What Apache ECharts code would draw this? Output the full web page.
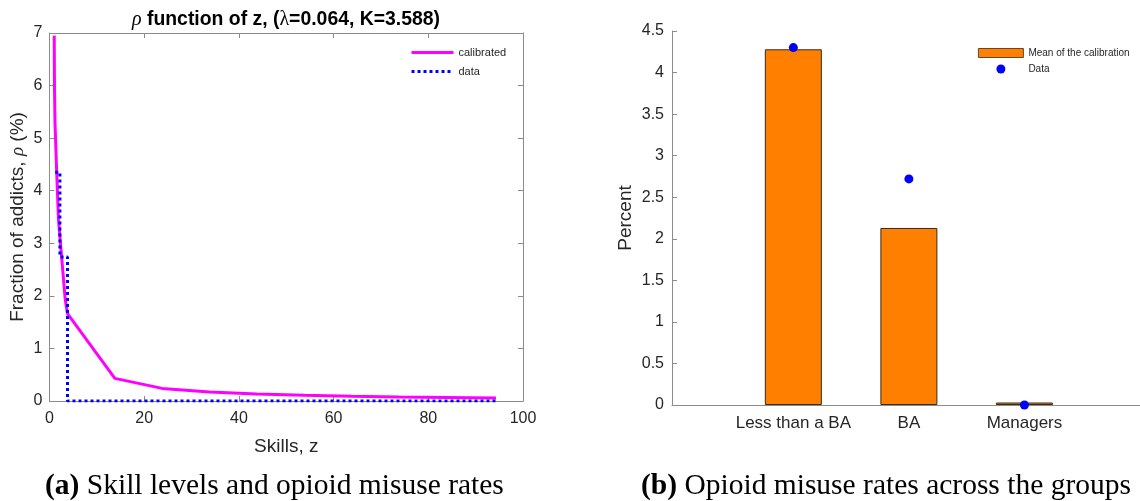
<!DOCTYPE html>
<html>
<head>
<meta charset="utf-8">
<script src="https://cdn.jsdelivr.net/npm/echarts@6/dist/echarts.min.js"></script>
<style>
  html, body { margin: 0; padding: 0; background: #fff; }
  #chart { width: 1140px; height: 501px; }
</style>
</head>
<body>
<div id="chart"></div>
<script>
// Panel (a): calibrated share of addicts by skill level, and the observed step profile
const skillZ        = [1.0, 1.05, 1.16, 1.5, 1.9, 2.6, 3.3, 3.8, 13.8, 23.8, 33.8, 43.8, 53.8, 63.8, 73.8, 83.8, 94.3];
const calibratedRho = [6.95, 6.0, 5.3, 4.4, 3.45, 2.7, 1.95, 1.66, 0.43, 0.24, 0.17, 0.135, 0.11, 0.09, 0.075, 0.065, 0.055];
const stepZ   = [1.2, 2.2, 3.8, 94.3];
const stepRho = [4.35, 2.74, 0, 0];
const zTicks   = [0, 20, 40, 60, 80, 100];
const rhoTicks = [0, 1, 2, 3, 4, 5, 6, 7];

// Panel (b): misuse rates by group
const groups       = ['Less than a BA', 'BA', 'Managers'];
const calibMean    = [4.28, 2.13, 0.03];
const observedRate = [4.30, 2.72, 0.0];
const pctTicks     = [0, 0.5, 1, 1.5, 2, 2.5, 3, 3.5, 4, 4.5];

const SANS = '"Liberation Sans", Arial, Helvetica, sans-serif';
const SERIF = '"Liberation Serif", "DejaVu Serif", serif';
const TXT = '#262626';
const AX = '#8c8c8c';

const zip = (xs, ys) => xs.map((x, i) => [x, ys[i]]);

const tickLabel = { color: TXT, fontFamily: SANS, fontSize: 16 };
const innerTicks = { show: true, inside: true, length: 5, lineStyle: { color: AX } };
const axisName = { color: TXT, fontFamily: SANS, fontSize: 19 };
const captionStyle = {
  fontFamily: SERIF, fontSize: 29.5, fontWeight: 'normal', color: '#000',
  rich: { b: { fontFamily: SERIF, fontSize: 29.5, fontWeight: 'bold', color: '#000' } }
};

const chart = echarts.init(document.getElementById('chart'), null, { renderer: 'canvas' });

chart.setOption({
  animation: false,
  backgroundColor: '#ffffff',
  title: [
    {
      text: '{r|ρ} function of z, ({l|λ}=0.064, K=3.588)',
      left: 281, top: 5, textAlign: 'center',
      textStyle: {
        fontFamily: SANS, fontSize: 19.4, fontWeight: 'bold', color: '#000',
        rich: {
          r: { fontFamily: SERIF, fontStyle: 'italic', fontSize: 20, fontWeight: 'normal', color: '#000' },
          l: { fontFamily: SERIF, fontSize: 20, fontWeight: 'normal', color: '#000' }
        }
      }
    },
    { text: '{b|(a)} Skill levels and opioid misuse rates', left: 40, top: 466, textStyle: captionStyle },
    { text: '{b|(b)} Opioid misuse rates across the groups', left: 636, top: 466, textStyle: captionStyle }
  ],
  legend: [
    {
      orient: 'vertical', left: 410, top: 47, padding: 0,
      itemWidth: 42, itemHeight: 10, itemGap: 8,
      data: ['calibrated', 'data'],
      itemStyle: { opacity: 0 },
      lineStyle: { width: 3 },
      textStyle: { fontFamily: SANS, fontSize: 11, color: TXT }
    },
    {
      orient: 'vertical', left: 978, top: 48, padding: 0,
      itemWidth: 45, itemHeight: 9, itemGap: 6,
      data: [
        { name: 'Mean of the calibration', icon: 'rect', itemStyle: { borderWidth: 0.8, borderColor: '#3a2a1a' } },
        'Data'
      ],
      textStyle: { fontFamily: SANS, fontSize: 10, color: TXT }
    }
  ],
  grid: [
    { left: 49.5, top: 33, width: 473.5, height: 368 },
    { left: 672, top: 31, width: 468, height: 374 }
  ],
  xAxis: [
    {
      gridIndex: 0, type: 'value', min: zTicks[0], max: zTicks[zTicks.length - 1], interval: 20,
      name: 'Skills, z', nameLocation: 'middle', nameGap: 36,
      nameTextStyle: axisName,
      axisLine: { show: true, onZero: false, lineStyle: { color: AX, width: 1 } },
      axisTick: innerTicks,
      axisLabel: Object.assign({ margin: 10 }, tickLabel),
      splitLine: { show: false }
    },
    {
      gridIndex: 0, type: 'value', position: 'top', min: 0, max: 100, interval: 20,
      axisLine: { show: true, onZero: false, lineStyle: { color: AX, width: 1 } },
      axisTick: innerTicks,
      axisLabel: { show: false },
      splitLine: { show: false }
    },
    {
      gridIndex: 1, type: 'value', min: -0.05, max: 4.0,
      axisLine: { show: true, onZero: false, lineStyle: { color: AX, width: 1 } },
      axisTick: { show: false },
      axisLabel: {
        margin: 10, color: TXT, fontFamily: SANS, fontSize: 17,
        customValues: [1, 2, 3],
        formatter: v => groups[Math.round(v) - 1] || ''
      },
      splitLine: { show: false }
    }
  ],
  yAxis: [
    {
      gridIndex: 0, type: 'value', min: rhoTicks[0], max: rhoTicks[rhoTicks.length - 1], interval: 1,
      name: 'Fraction of addicts, {r|ρ} (%)', nameLocation: 'middle', nameGap: 22,
      nameTextStyle: Object.assign({
        rich: { r: { fontFamily: SERIF, fontStyle: 'italic', fontSize: 19, color: TXT } }
      }, axisName),
      axisLine: { show: true, onZero: false, lineStyle: { color: AX, width: 1 } },
      axisTick: innerTicks,
      axisLabel: Object.assign({ margin: 7 }, tickLabel),
      splitLine: { show: false }
    },
    {
      gridIndex: 0, type: 'value', position: 'right', min: 0, max: 7, interval: 1,
      axisLine: { show: true, onZero: false, lineStyle: { color: AX, width: 1 } },
      axisTick: innerTicks,
      axisLabel: { show: false },
      splitLine: { show: false }
    },
    {
      gridIndex: 1, type: 'value', min: pctTicks[0], max: pctTicks[pctTicks.length - 1], interval: 0.5,
      name: 'Percent', nameLocation: 'middle', nameGap: 37,
      nameTextStyle: axisName,
      axisLine: { show: true, onZero: false, lineStyle: { color: AX, width: 1 } },
      axisTick: innerTicks,
      axisLabel: Object.assign({ margin: 8 }, tickLabel),
      splitLine: { show: false }
    }
  ],
  series: [
    {
      name: 'calibrated', type: 'line', xAxisIndex: 0, yAxisIndex: 0,
      data: zip(skillZ, calibratedRho),
      symbol: 'none', smooth: false,
      lineStyle: { color: '#ff00ff', width: 3 },
      itemStyle: { color: '#ff00ff' },
      z: 3
    },
    {
      name: 'data', type: 'line', xAxisIndex: 0, yAxisIndex: 0,
      data: zip(stepZ, stepRho),
      step: 'end', symbol: 'none',
      lineStyle: { color: '#0000ff', width: 3, type: [3, 3], cap: 'butt' },
      itemStyle: { color: '#0000ff' },
      z: 4
    },
    {
      name: 'Mean of the calibration', type: 'bar', xAxisIndex: 2, yAxisIndex: 2,
      data: calibMean.map((v, i) => [i + 1, v]),
      barWidth: 57,
      itemStyle: { color: '#ff8000', borderColor: '#3a2a1a', borderWidth: 1 },
      z: 2
    },
    {
      name: 'Data', type: 'scatter', xAxisIndex: 2, yAxisIndex: 2,
      data: observedRate.map((v, i) => [i + 1, v]),
      symbol: 'circle', symbolSize: 9,
      itemStyle: { color: '#0000ff', opacity: 1 },
      z: 5
    }
  ]
});
</script>
</body>
</html>
